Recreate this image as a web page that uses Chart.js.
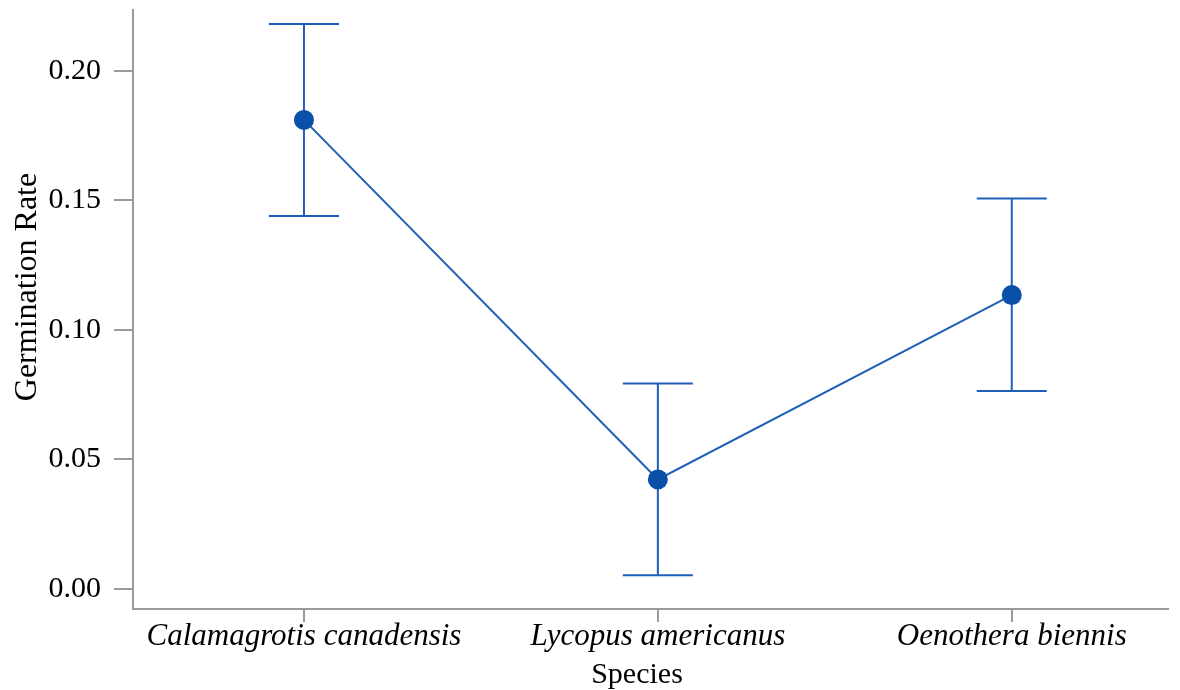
<!DOCTYPE html>
<html>
<head>
<meta charset="utf-8">
<script src="https://cdn.jsdelivr.net/npm/chart.js@4"></script>
<style>
  html, body { margin: 0; padding: 0; background: #fff; }
  #wrap { width: 1180px; height: 690px; }
</style>
</head>
<body>
<div id="wrap"><canvas id="chart" width="1180" height="690"></canvas></div>
<script>
// Values
const species = ["Calamagrotis canadensis", "Lycopus americanus", "Oenothera biennis"];
const rates = [0.181, 0.0423, 0.1134];
const ciLow = [0.1439, 0.0053, 0.0764];
const ciHigh = [0.218, 0.0793, 0.1507];
const yTicks = [0, 0.05, 0.10, 0.15, 0.20];

const lineColor = "#1f5fb8";
const pointColor = "#0a50a8";
const axisColor = "#9a9a9a";
const family = "'Liberation Serif', 'Times New Roman', serif";

// Error bars drawn from the same scales as the points
const errorBars = {
  id: "errorBars",
  beforeDatasetsDraw(chart) {
    const { ctx, scales: { x, y } } = chart;
    const cap = 35;
    ctx.save();
    ctx.strokeStyle = lineColor;
    ctx.lineWidth = 2;
    species.forEach((_, i) => {
      const px = x.getPixelForValue(i);
      const top = y.getPixelForValue(ciHigh[i]);
      const bot = y.getPixelForValue(ciLow[i]);
      ctx.beginPath();
      ctx.moveTo(px, top); ctx.lineTo(px, bot);
      ctx.moveTo(px - cap, top); ctx.lineTo(px + cap, top);
      ctx.moveTo(px - cap, bot); ctx.lineTo(px + cap, bot);
      ctx.stroke();
    });
    ctx.restore();
  }
};

// Axis titles placed where the reference has them
const axisTitles = {
  id: "axisTitles",
  afterDraw(chart) {
    const { ctx } = chart;
    ctx.save();
    ctx.fillStyle = "#000";
    ctx.textAlign = "center";
    ctx.textBaseline = "alphabetic";
    ctx.font = `30px ${family}`;
    ctx.fillText("Species", 637, 683);
    ctx.font = `32px ${family}`;
    ctx.translate(36, 287);
    ctx.rotate(-Math.PI / 2);
    ctx.fillText("Germination Rate", 0, 0);
    ctx.restore();
  }
};

new Chart(document.getElementById("chart"), {
  type: "line",
  data: {
    datasets: [{
      label: "Germination Rate",
      data: rates.map((v, i) => ({ x: i, y: v })),
      borderColor: lineColor,
      borderWidth: 2,
      pointRadius: 10,
      pointHoverRadius: 10,
      pointBackgroundColor: pointColor,
      pointBorderColor: pointColor,
      pointBorderWidth: 0,
      tension: 0
    }]
  },
  options: {
    responsive: false,
    animation: false,
    layout: { padding: { top: 10, right: 12, left: 0, bottom: 0 } },
    plugins: {
      legend: { display: false },
      tooltip: { enabled: false }
    },
    scales: {
      x: {
        type: "linear",
        min: -0.4831,
        max: 2.4415,
        afterBuildTicks: (scale) => { scale.ticks = species.map((_, i) => ({ value: i })); },
        afterFit: (scale) => { scale.height = 81; scale.paddingLeft = 0; scale.paddingRight = 0; },
        ticks: {
          callback: (v) => species[v],
          font: { family: family, size: 31, style: "italic" },
          color: "#000",
          padding: -4,
          maxRotation: 0,
          autoSkip: false
        },
        grid: { drawOnChartArea: false, color: axisColor, lineWidth: 2, tickLength: 13 },
        border: { color: axisColor, width: 2 }
      },
      y: {
        min: -0.0077,
        max: 0.2234,
        afterBuildTicks: (scale) => { scale.ticks = yTicks.map(v => ({ value: v })); },
        afterFit: (scale) => { scale.width = 133; scale.paddingTop = 0; scale.paddingBottom = 0; },
        ticks: {
          callback: (v) => v.toFixed(2),
          font: { family: family, size: 30 },
          color: "#000",
          padding: 13
        },
        grid: { drawOnChartArea: false, color: axisColor, lineWidth: 2, tickLength: 19 },
        border: { color: axisColor, width: 2 }
      }
    }
  },
  plugins: [errorBars, axisTitles]
});
</script>
</body>
</html>
